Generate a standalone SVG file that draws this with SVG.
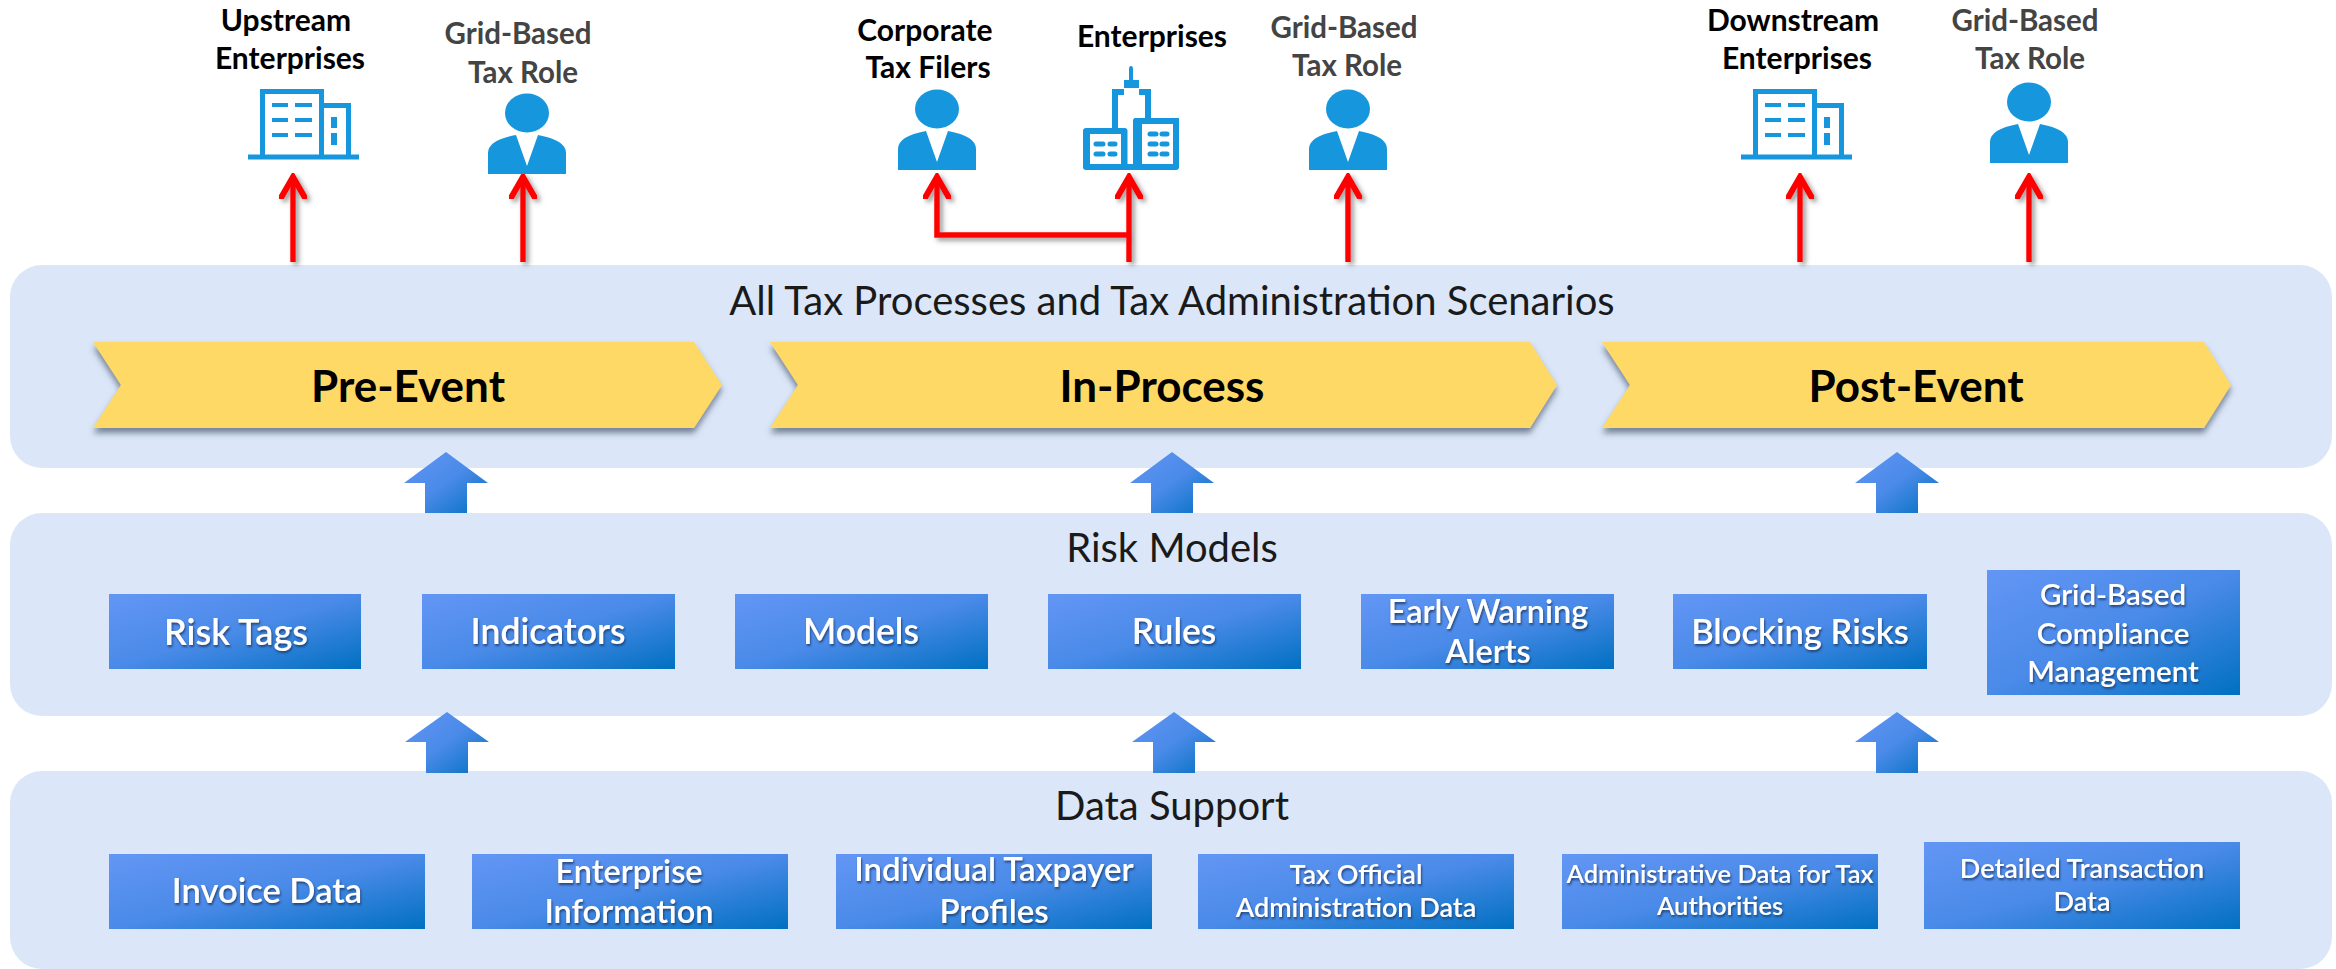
<svg xmlns="http://www.w3.org/2000/svg" width="2336" height="969" viewBox="0 0 2336 969">
<style>
text{font-family:Lato,"Liberation Sans",sans-serif;text-anchor:middle}
.panel{fill:#dbe7f9}
.title{font-size:40px;fill:#1a1a1a}
.phase{font-size:44px;font-weight:700;fill:#000}
.chev{fill:#fed966;filter:url(#sh)}
.box{fill:url(#bg)}
.blk{fill:url(#bg)}
.lb{fill:#fff;font-weight:600;filter:url(#ts)}
.k{font-size:30px;font-weight:700;fill:#000}
.g{font-size:29.500px;font-weight:700;fill:#444}
.ic{fill:#1696dc}
.ol{fill:none;stroke:#1696dc;stroke-width:5}
.red{fill:none;stroke:#f00;stroke-width:5.500;stroke-linejoin:miter}
</style>
<defs>
<linearGradient id="bg" x1="0" y1="0" x2="1" y2="1"><stop offset="0" stop-color="#6396f5"/><stop offset=".5" stop-color="#4a8ae8"/><stop offset="1" stop-color="#0070c0"/></linearGradient>
<filter id="sh" x="-5%" y="-10%" width="110%" height="130%"><feDropShadow dx="0" dy="5" stdDeviation="3" flood-color="#44546a" flood-opacity=".7"/></filter>
<filter id="ts" x="-5%" y="-10%" width="110%" height="130%"><feDropShadow dx="1" dy="2" stdDeviation="1.200" flood-color="#1c3c70" flood-opacity=".9"/></filter>
<filter id="rs" x="-60" y="-20" width="2400" height="400" filterUnits="userSpaceOnUse"><feDropShadow dx="3" dy="3" stdDeviation="2.500" flood-color="#555" flood-opacity=".6"/></filter>
<marker id="ah" viewBox="0 0 26 28" refX="19" refY="14" markerWidth="26" markerHeight="28" markerUnits="userSpaceOnUse" orient="auto"><path d="M2,2.500 L22,14 L2,25.500" fill="none" stroke="#f00" stroke-width="6" stroke-linecap="round"/></marker>
<g id="person"><ellipse cx="0" cy="-61" rx="22" ry="19.500" class="ic"/><path class="ic" d="M-39,0V-21Q-39,-34,-11,-39L0,-8L11,-39Q39,-34,39,-21V0Z"/></g>
<g id="office"><path class="ol" d="M262.500,157V91.500H321.500V157M324,105.500H348.500V157"/><rect class="ic" x="248" y="154.500" width="111" height="5"/><path fill="none" stroke="#1696dc" stroke-width="4" d="M272,105h16M295,105h17M272,120h16M295,120h17M272,135h16M295,135h17"/><rect class="ic" x="331" y="117" width="6" height="11"/><rect class="ic" x="331" y="133" width="6" height="12"/></g>
</defs>
<g id="panels">
<rect id="panel-processes" class="panel" x="10" y="265" width="2322" height="203" rx="32"/>
<rect id="panel-risk" class="panel" x="10" y="513" width="2322" height="203" rx="32"/>
<rect id="panel-data" class="panel" x="10" y="771" width="2322" height="198" rx="32"/>
</g>
<g id="connectors">
<g filter="url(#rs)">
<path class="red" d="M293,262V180" marker-end="url(#ah)"/>
<path class="red" d="M523,262V180" marker-end="url(#ah)"/>
<path class="red" d="M1129,262V180" marker-end="url(#ah)"/>
<path class="red" d="M1129,235H937V180" marker-end="url(#ah)"/>
<path class="red" d="M1348,262V180" marker-end="url(#ah)"/>
<path class="red" d="M1800,262V180" marker-end="url(#ah)"/>
<path class="red" d="M2029,262V180" marker-end="url(#ah)"/>
</g>
<path class="blk" d="M446,452L488,483H467V513H425V483H404Z"/>
<path class="blk" d="M1172,452L1214,483H1193V513H1151V483H1130Z"/>
<path class="blk" d="M1897,452L1939,483H1918V513H1876V483H1855Z"/>
<path class="blk" d="M447,712L489,742H468V773H426V742H405Z"/>
<path class="blk" d="M1174,712L1216,742H1195V773H1153V742H1132Z"/>
<path class="blk" d="M1897,712L1939,742H1918V773H1876V742H1855Z"/>
</g>
<g id="title-processes"><text class="title" x="1172" y="315">All Tax Processes and Tax Administration Scenarios</text></g>
<g id="title-risk"><text class="title" x="1172" y="562">Risk Models</text></g>
<g id="title-data"><text class="title" x="1172" y="820">Data Support</text></g>
<g id="pre-event"><path class="chev" d="M93,342H694L722,385L694,428H93L121,385Z"/><text class="phase" x="408" y="402">Pre-Event</text></g>
<g id="in-process"><path class="chev" d="M770,342H1530L1557,385L1530,428H770L798,385Z"/><text class="phase" x="1162" y="402">In-Process</text></g>
<g id="post-event"><path class="chev" d="M1602,342H2204L2231,385L2204,428H1602L1630,385Z"/><text class="phase" x="1916" y="402">Post-Event</text></g>
<g id="risk-tags"><rect class="box" x="109" y="594" width="252" height="75"/><text class="lb" font-size="36" x="236" y="645">Risk Tags</text></g>
<g id="indicators"><rect class="box" x="422" y="594" width="253" height="75"/><text class="lb" font-size="35.500" x="548" y="644">Indicators</text></g>
<g id="models"><rect class="box" x="735" y="594" width="253" height="75"/><text class="lb" font-size="35.500" x="861" y="644">Models</text></g>
<g id="rules"><rect class="box" x="1048" y="594" width="253" height="75"/><text class="lb" font-size="35.500" x="1174" y="644">Rules</text></g>
<g id="early-warning"><rect class="box" x="1361" y="594" width="253" height="75"/><text class="lb" font-size="32.500" x="1488" y="623">Early Warning</text><text class="lb" font-size="32.500" x="1488" y="663">Alerts</text></g>
<g id="blocking-risks"><rect class="box" x="1673" y="594" width="254" height="75"/><text class="lb" font-size="34.500" x="1800" y="644">Blocking Risks</text></g>
<g id="grid-compliance"><rect class="box" x="1987" y="570" width="253" height="125"/><text class="lb" font-size="29.500" x="2113" y="605">Grid-Based</text><text class="lb" font-size="29.500" x="2113" y="644">Compliance</text><text class="lb" font-size="29.500" x="2113" y="682">Management</text></g>
<g id="invoice-data"><rect class="box" x="109" y="854" width="316" height="75"/><text class="lb" font-size="34.500" x="267" y="903">Invoice Data</text></g>
<g id="enterprise-info"><rect class="box" x="472" y="854" width="316" height="75"/><text class="lb" font-size="32.500" x="629" y="883">Enterprise</text><text class="lb" font-size="32.500" x="629" y="923">Information</text></g>
<g id="individual-profiles"><rect class="box" x="836" y="854" width="316" height="75"/><text class="lb" font-size="33" x="994" y="881">Individual Taxpayer</text><text class="lb" font-size="33" x="994" y="923">Profiles</text></g>
<g id="tax-official"><rect class="box" x="1198" y="854" width="316" height="75"/><text class="lb" font-size="27" x="1356" y="884">Tax Official</text><text class="lb" font-size="27" x="1356" y="917">Administration Data</text></g>
<g id="admin-data"><rect class="box" x="1562" y="854" width="316" height="75"/><text class="lb" font-size="25.500" x="1720" y="883">Administrative Data for Tax</text><text class="lb" font-size="25.500" x="1720" y="915">Authorities</text></g>
<g id="detailed-transaction"><rect class="box" x="1924" y="842" width="316" height="87"/><text class="lb" font-size="27" x="2082" y="878">Detailed Transaction</text><text class="lb" font-size="27" x="2082" y="911">Data</text></g>
<g id="upstream"><text class="k" x="286" y="31">Upstream</text><text class="k" x="290" y="69">Enterprises</text><use href="#office"/></g>
<g id="grid-role-1"><text class="g" x="518" y="44">Grid-Based</text><text class="g" x="523" y="83">Tax Role</text><use href="#person" x="527" y="174"/></g>
<g id="corporate-filers"><text class="k" x="925" y="41">Corporate</text><text class="k" x="928" y="78">Tax Filers</text><use href="#person" x="937" y="170"/></g>
<g id="enterprises"><text class="k" x="1152" y="47">Enterprises</text>
<path class="ic" d="M1129,80V69a2,3,0,0,1,4,0V80h6v9h12v29h28v49a3,3,0,0,1,-3,3H1086a3,3,0,0,1,-3,-3V131a3,3,0,0,1,3,-3H1112V89h12V80Z"/>
<path fill="#fff" d="M1118,95h6v-7h15v7h6v23h-10.500a3,3,0,0,0,-1.500,3V164h-5.500V131a3,3,0,0,0,-3,-3H1118ZM1090,134h31v30h-31ZM1142,124h31v40h-31Z"/>
<path fill="none" stroke="#1696dc" stroke-width="5" stroke-linecap="round" d="M1096,144h7M1110,144h5M1096,154h7M1110,154h5M1150,134h6M1162,134h5M1150,144h6M1162,144h5M1150,154h6M1162,154h5"/></g>
<g id="grid-role-2"><text class="g" x="1344" y="38">Grid-Based</text><text class="g" x="1347" y="76">Tax Role</text><use href="#person" x="1348" y="170"/></g>
<g id="downstream"><text class="k" x="1793" y="31">Downstream</text><text class="k" x="1797" y="69">Enterprises</text><use href="#office" x="1493"/></g>
<g id="grid-role-3"><text class="g" x="2025" y="31">Grid-Based</text><text class="g" x="2030" y="69">Tax Role</text><use href="#person" x="2029" y="163"/></g>
</svg>
